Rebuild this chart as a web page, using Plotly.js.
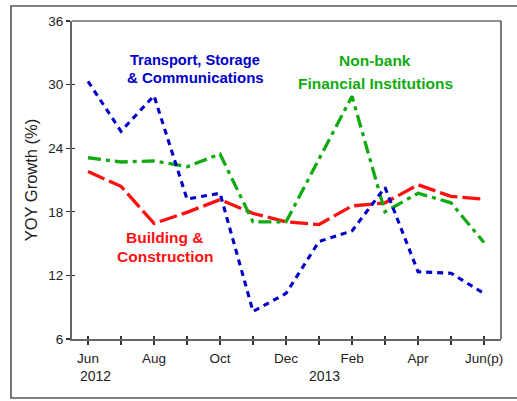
<!DOCTYPE html>
<html>
<head>
<meta charset="utf-8">
<script src="https://cdn.plot.ly/plotly-3.0.1.min.js"></script>
<style>html,body{margin:0;padding:0;background:#fff;}#chart{width:517px;height:401px;}</style>
</head>
<body>
<div id="chart"></div>
<script>
// Months Jun 2012 .. Jun 2013 (index 0..12)
const monthIndex = [0,1,2,3,4,5,6,7,8,9,10,11,12];
const tickLabels = ["Jun","","Aug","","Oct","","Dec","","Feb","","Apr","","Jun(p)"];
const transport = [30.3,25.6,28.95,19.2,19.75,8.6,10.3,15.2,16.2,20.3,12.35,12.2,10.3];
const nonbank   = [23.1,22.7,22.8,22.25,23.45,17.05,17.05,22.9,28.9,18.0,19.75,18.85,15.1];
const building  = [21.8,20.4,16.9,17.95,19.15,17.85,17.05,16.8,18.55,18.85,20.55,19.45,19.2];
const yTicks = [6,12,18,24,30,36];

const blue = '#0000c8', green = '#12aa12', red = '#ff1010';

const traces = [
  {x: monthIndex, y: building, mode:'lines', line:{color:red, width:3.3, dash:'18px,5px'}, hoverinfo:'skip'},
  {x: monthIndex, y: nonbank, mode:'lines', line:{color:green, width:3.3, dash:'13px,5px,4px,5px'}, hoverinfo:'skip'},
  {x: monthIndex, y: transport, mode:'lines', line:{color:blue, width:3.1, dash:'6px,5px'}, hoverinfo:'skip'},
  {x: [0], y: [6], xaxis:'x2', yaxis:'y2', mode:'markers', marker:{opacity:0}, hoverinfo:'skip'}
];

const xr = [-0.485, 12.515], yr = [6, 36];
const fam = 'Liberation Sans, Arial, sans-serif';
const tickFont = {family:fam, size:13.5, color:'#222'};

function ann(text, x, y, color, size, anchor){
  return {text:text, x:x, y:y, xref:'x', yref:'y', showarrow:false, xanchor:anchor, yanchor:'middle',
    font:{family:fam, size:size, color:color, weight:'bold'}};
}

const layout = {
  width:517, height:401,
  margin:{l:72, r:16, t:21, b:62},
  paper_bgcolor:'#fff', plot_bgcolor:'#fff',
  showlegend:false,
  xaxis:{range:xr, tickvals:monthIndex, ticktext:tickLabels, ticks:'outside', ticklen:4, tickwidth:1.2, tickcolor:'#333',
    ticklabelstandoff:2,
    showline:true, linecolor:'#666', linewidth:2, showgrid:false, zeroline:false, tickfont:tickFont, fixedrange:true},
  yaxis:{range:yr, tickvals:yTicks, ticks:'outside', ticklen:4, tickwidth:1.2, tickcolor:'#333',
    showline:true, linecolor:'#666', linewidth:2, showgrid:false, zeroline:false, tickfont:tickFont,
    title:{text:'YOY Growth (%)', font:{family:fam, size:16.5, color:'#222'}, standoff:6}, fixedrange:true},
  xaxis2:{range:xr, overlaying:'x', anchor:'y2', tickvals:monthIndex, ticks:'inside', ticklen:3, tickwidth:1.2, tickcolor:'#333',
    showticklabels:false, showline:false, showgrid:false, zeroline:false},
  yaxis2:{range:yr, overlaying:'y', anchor:'x2', tickvals:yTicks, ticks:'inside', ticklen:3, tickwidth:1.2, tickcolor:'#333',
    showticklabels:false, showline:false, showgrid:false, zeroline:false},
  shapes:[
    {type:'line', xref:'paper', yref:'paper', x0:0, x1:1, y0:1, y1:1, line:{color:'#222', width:1.2}},
    {type:'line', xref:'paper', yref:'paper', x0:1, x1:1, y0:0, y1:1, line:{color:'#222', width:1.2}},
    {type:'rect', xref:'paper', yref:'paper', x0:-0.1422, x1:1.12, y0:-0.1855, y1:1.0472, line:{color:'#555', width:1.6}}
  ],
  annotations:[
    ann('Transport, Storage', 1.197, 32.29, blue, 14.6, 'left'),
    ann('&amp; Communications', 1.12, 30.63, blue, 15, 'left'),
    ann('Non-bank', 8.697, 32.27, green, 15.5, 'center'),
    ann('Financial Institutions', 8.697, 30.10, green, 15.5, 'center'),
    ann('Building &amp;', 2.327, 15.59, red, 15.5, 'center'),
    ann('Construction', 2.327, 13.80, red, 15.5, 'center'),
    {text:'2012', x:-0.3, xanchor:'left', xref:'x', yref:'paper', y:-0.117, yanchor:'middle', showarrow:false, font:{family:fam, size:14, color:'#222'}},
    {text:'2013', x:7.18, xanchor:'center', xref:'x', yref:'paper', y:-0.117, yanchor:'middle', showarrow:false, font:{family:fam, size:14, color:'#222'}}
  ]
};

Plotly.newPlot('chart', traces, layout, {displayModeBar:false, staticPlot:true});
</script>
</body>
</html>
